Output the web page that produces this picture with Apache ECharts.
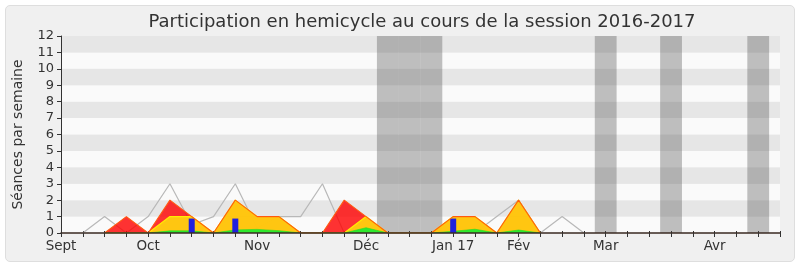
<!DOCTYPE html>
<html>
<head>
<meta charset="utf-8">
<script src="https://cdn.jsdelivr.net/npm/echarts@6/dist/echarts.min.js"></script>
<style>
  html, body { margin: 0; padding: 0; background: #ffffff; }
  #wrap { position: relative; width: 800px; height: 267px; }
  #panel { position: absolute; left: 5px; top: 5px; width: 788px; height: 255px;
           background: #f0f0f0; border: 1px solid #dedede; border-radius: 5px; }
  #chart { position: absolute; left: 0; top: 0; width: 800px; height: 267px; }
</style>
</head>
<body>
<div id="wrap"><div id="panel"></div><div id="chart"></div></div>
<script>
// Weeks of the session, index 0 = first week of September 2016
const weekCount = 34;
const labelWeeks = [0, 4, 9, 14, 18, 21, 25, 30];
const labelTexts = ['Sept', 'Oct', 'Nov', 'Déc', 'Jan 17', 'Fév', 'Mar', 'Avr'];
// vacation weeks (grey bands)
const vacationWeeks = [15, 16, 17, 25, 28, 32];

// grey line (average)
const greyValues = [null, 0, 1, 0, 1, 3, 0.5, 1, 3, 0.3, 1, 1, 3, 0, 0, 0, 0, 0, 0, 0, 1, 2, 0, 1, 0];
// red area
const redValues = [null, null, 0, 1, 0, 2, 1, 0, 2, 1, 1, 0, 0, 2, 1, 0, 0, 0, 1, 1, 0, 2, 0];
// yellow area
const yellowValues = [null, null, 0, 0, 0, 1, 1, 0, 2, 1, 1, 0, 0, 0, 1, 0, 0, 0, 1, 1, 0, 2, 0];
// green area
const greenValues = [null, null, 0, 0, 0, 0.13, 0.13, 0, 0.19, 0.22, 0.14, 0, 0, 0, 0.32, 0, 0, 0, 0.1, 0.23, 0, 0.18, 0];
// blue bars
const blueWeeks = [6, 8, 18];
const blueValues = [0.88, 0.88, 0.88];

const toPairs = arr => arr.map((v, i) => [i, v]);
const labelMap = {};
labelWeeks.forEach((w, i) => { labelMap[w] = labelTexts[i]; });

const chart = echarts.init(document.getElementById('chart'), null, { renderer: 'canvas' });
const font = 'DejaVu Sans';

chart.setOption({
  backgroundColor: 'transparent',
  animation: false,
  title: {
    text: 'Participation en hemicycle au cours de la session 2016-2017',
    left: 417, top: 8, textAlign: 'center',
    textStyle: { fontFamily: font, fontSize: 18, fontWeight: 'normal', color: '#333' }
  },
  grid: { left: 61, right: 20, top: 36, bottom: 34, containLabel: false },
  xAxis: [{
    type: 'value', min: 0, max: weekCount - 1, interval: 1, z: 10,
    axisLine: { show: true, onZero: false, lineStyle: { color: '#3a2a22', width: 1.5 } },
    axisTick: { show: true, length: 4, lineStyle: { color: '#333' } },
    axisLabel: {
      margin: 6, fontFamily: font, fontSize: 13.5, color: '#333',
      showMinLabel: true, showMaxLabel: true,
      formatter: v => labelMap[v] || ''
    },
    splitLine: { show: false }
  }, {
    type: 'value', position: 'top', min: 0, max: weekCount - 1, interval: 1,
    axisLine: { show: false },
    axisTick: { show: true, length: 2, lineStyle: { color: '#333' } },
    axisLabel: { show: false },
    splitLine: { show: false }
  }],
  yAxis: {
    type: 'value', min: 0, max: 12, interval: 1,
    name: 'Séances par semaine', nameLocation: 'middle', nameGap: 36,
    nameTextStyle: { fontFamily: font, fontSize: 14, color: '#333' },
    axisLine: { show: true, lineStyle: { color: '#333' } },
    axisTick: { show: true, length: 4, lineStyle: { color: '#333' } },
    axisLabel: { margin: 7, fontFamily: font, fontSize: 13, color: '#333' },
    splitLine: { show: false },
    splitArea: { show: true, areaStyle: { color: ['#fafafa', '#e6e6e6'] } }
  },
  series: [
    {
      type: 'line', data: [], z: 1, silent: true,
      markArea: {
        silent: true,
        itemStyle: { color: 'rgba(76,76,76,0.35)' },
        data: vacationWeeks.map(w => [{ xAxis: w - 0.5 }, { xAxis: w + 0.5 }])
      }
    },
    {
      type: 'line', data: toPairs(greyValues), z: 2, symbol: 'none',
      lineStyle: { color: '#b8b8b8', width: 1.2 }
    },
    {
      type: 'line', data: toPairs(redValues), z: 3, symbol: 'none',
      lineStyle: { width: 0 },
      areaStyle: { color: 'rgba(255,0,0,0.8)', opacity: 1 }
    },
    {
      type: 'line', data: toPairs(yellowValues), z: 4, symbol: 'none',
      lineStyle: { color: '#ffec00', width: 1.2 },
      areaStyle: { color: '#ffd20f', opacity: 0.93 }
    },
    {
      type: 'line', data: toPairs(greenValues), z: 5, symbol: 'none',
      lineStyle: { color: '#22dd22', width: 0.6 },
      areaStyle: { color: '#2ee82e', opacity: 1 }
    },
    {
      type: 'bar', data: blueWeeks.map((w, i) => [w, blueValues[i]]), z: 6,
      barWidth: 6, itemStyle: { color: '#2020dd' }
    },
    {
      type: 'line', data: toPairs(redValues), z: 7, symbol: 'none',
      lineStyle: { color: '#ff5a10', width: 1.1 }
    }
  ]
});
</script>
</body>
</html>
